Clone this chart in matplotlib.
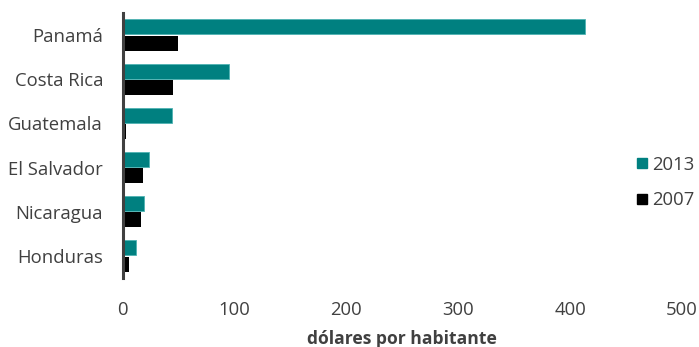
"""Gasto por habitante, 2007 vs 2013 (barras horizontales)."""

import matplotlib
matplotlib.use('Agg')
import matplotlib.pyplot as plt
import numpy as np
from matplotlib.lines import Line2D

# Datos
paises = ['Panamá', 'Costa Rica', 'Guatemala', 'El Salvador', 'Nicaragua', 'Honduras']
valores_2013 = [413, 95, 44, 24, 19, 12]
valores_2007 = [50, 45, 3, 18, 16.5, 5.5]
xticks = [0, 100, 200, 300, 400, 500]

TEAL = '#008080'
GRIS = '#404040'

plt.rcParams['font.family'] = ['Open Sans', 'DejaVu Sans']

fig = plt.figure(figsize=(6.99, 3.47), dpi=100)
ax = fig.add_axes([0.1753, 0.199, 0.8004, 0.7635])

y = np.arange(len(paises))
alto = 0.34
ax.barh(y - 0.185, valores_2013, height=alto, color=TEAL, edgecolor='#4fb3b3', linewidth=0.6)
ax.barh(y + 0.185, valores_2007, height=alto, color='black')

ax.set_ylim(len(paises) - 0.5, -0.5)
ax.set_xlim(0, 500)
ax.set_yticks(y)
ax.set_yticklabels(paises)
ax.set_xticks(xticks)

ax.tick_params(axis='both', length=0, labelsize=13.3, labelcolor=GRIS)
ax.tick_params(axis='y', pad=14)
ax.tick_params(axis='x', pad=16.5)

for lado in ['top', 'right', 'bottom']:
    ax.spines[lado].set_visible(False)
ax.spines['left'].set_linewidth(2.2)
ax.spines['left'].set_color(GRIS)

ax.set_xlabel('dólares por habitante', fontsize=12.6, fontweight='bold', color=GRIS, labelpad=8)

handles = [Line2D([], [], marker='s', linestyle='none', markersize=7, color=TEAL),
           Line2D([], [], marker='s', linestyle='none', markersize=7, color='black')]
fig.legend(handles, ['2013', '2007'], loc='center left', bbox_to_anchor=(0.881, 0.474),
           frameon=False, fontsize=13.3, labelcolor=GRIS, handletextpad=0.05,
           labelspacing=0.95, handlelength=1.0)

fig.savefig('out.png', dpi=100)
